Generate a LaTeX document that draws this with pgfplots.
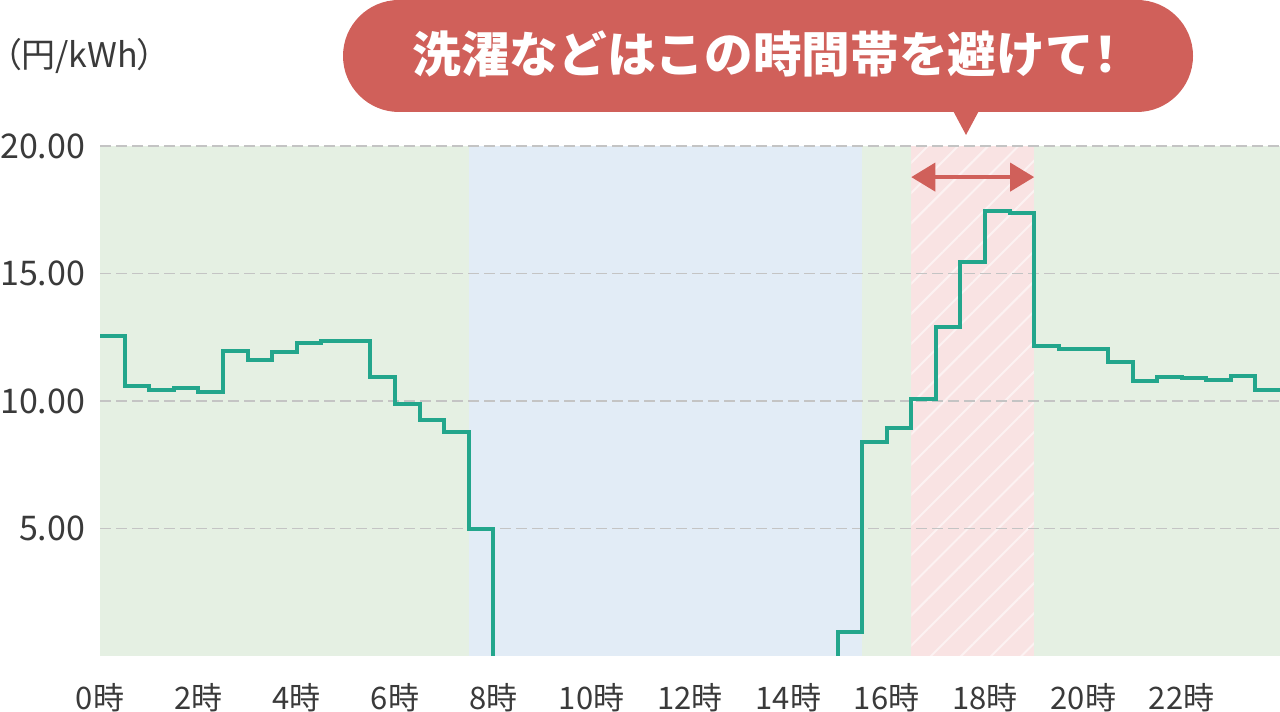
\documentclass[border=0pt]{standalone}
\usepackage{fontspec}
\setmainfont{Noto Sans CJK JP}
\newfontfamily\paltfont[RawFeature=+palt]{Noto Sans CJK JP}
\usepackage{pgfplots}
\pgfplotsset{compat=1.18}
\usetikzlibrary{arrows.meta,patterns.meta}

\definecolor{txt}{HTML}{3A3A3A}
\definecolor{bggreen}{HTML}{E5F0E3}
\definecolor{bgblue}{HTML}{E2ECF6}
\definecolor{bgpink}{HTML}{F9E3E3}
\definecolor{lineteal}{HTML}{23A68C}
\definecolor{accent}{HTML}{D0605A}
\definecolor{gridgray}{HTML}{C4C4C4}

\begin{document}
\begin{tikzpicture}
\useasboundingbox (0,0) rectangle (960pt,534pt);

% speech bubble
\fill[accent, rounded corners=42pt] (257.25pt,450pt) rectangle (894.75pt,534pt);
\fill[accent] (714.75pt,451pt) -- (734.25pt,451pt) -- (724.5pt,432.75pt) -- cycle;
\node[text=white, font=\bfseries\fontsize{36.5pt}{39pt}\selectfont, inner sep=0pt]
  at (578.5pt,493.5pt) {洗濯などはこの時間帯を避けて\kern-0.25em！};

% unit
\node[anchor=west, text=txt, inner sep=0pt, font=\paltfont\fontsize{25.5pt}{27pt}\selectfont]
  at (3pt,492pt) {（円/kWh）};

\begin{axis}[
  at={(75pt,42pt)}, anchor=south west,
  scale only axis, width=885pt, height=382.5pt,
  xmin=0, xmax=24, ymin=0, ymax=20,
  axis line style={draw=none},
  tick style={draw=none},
  clip=true,
  xtick={0,2,...,22},
  xticklabels={0時,2時,4時,6時,8時,10時,12時,14時,16時,18時,20時,22時},
  ytick={5,10,15,20},
  yticklabels={5.00,10.00,15.00,20.00},
  /pgf/number format/assume math mode=true,
  xticklabel style={text=txt, font=\fontsize{23.25pt}{25pt}\selectfont,
    anchor=north, inner sep=0pt, yshift=-20pt},
  yticklabel style={text=txt, font=\fontsize{25.5pt}{27pt}\selectfont,
    anchor=east, inner sep=0pt, xshift=-11pt},
]
% time bands
\fill[bggreen] (axis cs:0,0) rectangle (axis cs:7.5,20);
\fill[bgblue] (axis cs:7.5,0) rectangle (axis cs:15.5,20);
\fill[bggreen] (axis cs:15.5,0) rectangle (axis cs:16.5,20);
\fill[bgpink] (axis cs:16.5,0) rectangle (axis cs:19,20);
\fill[pattern={Lines[angle=45,distance=16pt,line width=1.5pt]}, pattern color=white, opacity=0.55]
  (axis cs:16.5,0) rectangle (axis cs:19,20);
\fill[bggreen] (axis cs:19,0) rectangle (axis cs:24,20);

% grid
\draw[gridgray, line width=1.1pt, dash pattern=on 8pt off 4pt] (axis cs:0,5) -- (axis cs:24,5);
\draw[gridgray, line width=1.1pt, dash pattern=on 8pt off 4pt] (axis cs:0,10) -- (axis cs:24,10);
\draw[gridgray, line width=1.1pt, dash pattern=on 8pt off 4pt] (axis cs:0,15) -- (axis cs:24,15);
\draw[gridgray, line width=1.1pt, dash pattern=on 8pt off 4pt] (axis cs:0,20) -- (axis cs:24,20);

% avoid-range arrow
\draw[accent, line width=3pt, {Triangle[length=18pt,width=21pt]}-{Triangle[length=18pt,width=21pt]}]
  (axis cs:16.5,18.78) -- (axis cs:19,18.78);

\addplot[lineteal, line width=3pt, const plot, no marks] coordinates {
  (0,12.54) (0.5,10.58) (1,10.42) (1.5,10.50) (2,10.34) (2.5,11.98)
  (3,11.62) (3.5,11.93) (4,12.26) (4.5,12.37) (5,12.36) (5.5,10.93)
  (6,9.87) (6.5,9.25) (7,8.79) (7.5,4.97) (8,-3) (8.5,-3)
  (9,-3) (9.5,-3) (10,-3) (10.5,-3) (11,-3) (11.5,-3)
  (12,-3) (12.5,-3) (13,-3) (13.5,-3) (14,-3) (14.5,-3)
  (15,0.95) (15.5,8.41) (16,8.96) (16.5,10.06) (17,12.92) (17.5,15.47)
  (18,17.46) (18.5,17.37) (19,12.14) (19.5,12.04) (20,12.04) (20.5,11.52)
  (21,10.80) (21.5,10.93) (22,10.92) (22.5,10.83) (23,10.97) (23.5,10.42)
  (24,10.42)
};
\end{axis}
\end{tikzpicture}
\end{document}
